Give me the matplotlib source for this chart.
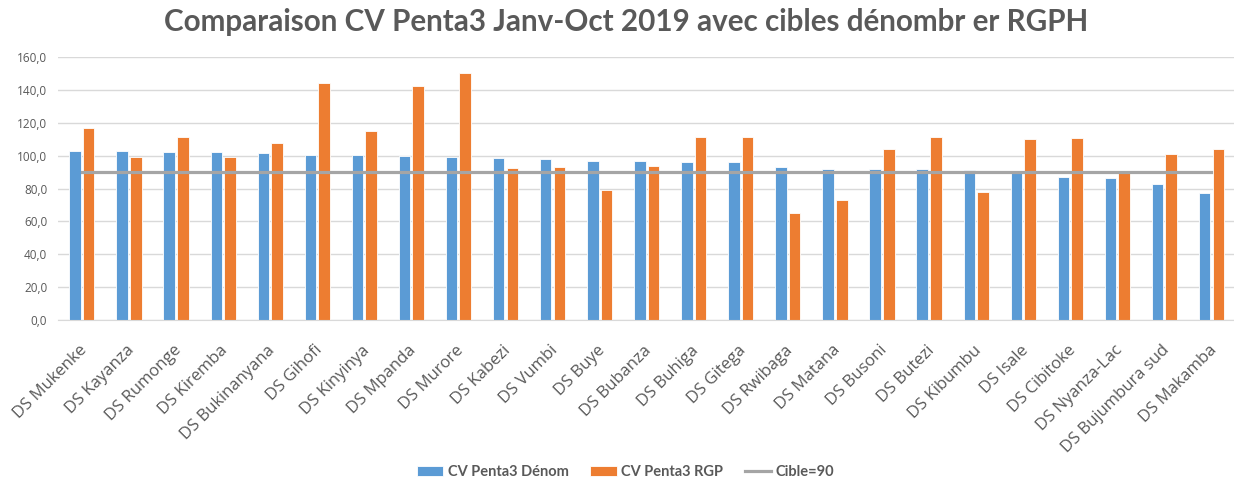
import matplotlib.pyplot as plt
import matplotlib.transforms as mtransforms
import numpy as np

districts = ['DS Mukenke', 'DS Kayanza', 'DS Rumonge', 'DS Kiremba', 'DS Bukinanyana',
             'DS Gihofi', 'DS Kinyinya', 'DS Mpanda', 'DS Murore', 'DS Kabezi',
             'DS Vumbi', 'DS Buye', 'DS Bubanza', 'DS Buhiga', 'DS Gitega',
             'DS Rwibaga', 'DS Matana', 'DS Busoni', 'DS Butezi', 'DS Kibumbu',
             'DS Isale', 'DS Cibitoke', 'DS Nyanza-Lac', 'DS Bujumbura sud', 'DS Makamba']

cv_denom = [103.0, 103.0, 102.3, 102.3, 101.7, 100.6, 100.6, 100.0, 99.5, 98.9,
            98.3, 97.0, 97.0, 96.4, 96.4, 93.4, 91.8, 91.8, 91.8, 91.2,
            89.7, 87.1, 86.5, 82.8, 77.5]
cv_rgp = [117.0, 99.5, 111.2, 99.5, 107.6, 144.5, 115.3, 142.7, 150.2, 92.4,
          93.0, 79.0, 93.6, 111.6, 111.6, 65.4, 72.9, 104.1, 111.6, 77.8,
          110.4, 111.0, 89.7, 101.1, 104.1]
cible = [90] * len(districts)

txt = '#595959'
x = np.arange(len(districts))

fig = plt.figure(figsize=(12.34, 4.93), dpi=100)
ax = fig.add_axes([0.0473, 0.351, 0.9535, 0.533])

b1 = ax.bar(x - 0.145, cv_denom, 0.245, color='#5B9BD5', edgecolor='white', linewidth=0.6,
            label='CV Penta3 Dénom', zorder=2)
b2 = ax.bar(x + 0.145, cv_rgp, 0.245, color='#ED7D31', edgecolor='white', linewidth=0.6,
            label='CV Penta3 RGP', zorder=2)
l1, = ax.plot(x, cible, color='#A5A5A5', linewidth=2.3, label='Cible=90', zorder=3)

ax.set_xlim(-0.5, len(districts) - 0.5)
ax.set_ylim(0, 160)
ax.set_yticks(np.arange(0, 161, 20))
ax.set_yticklabels([f'{v:.1f}'.replace('.', ',') for v in np.arange(0, 161, 20)],
                   fontsize=8.5, color=txt, family='Open Sans')
ax.set_xticks(x)
ax.set_xticklabels(districts, rotation=45, ha='right', rotation_mode='anchor',
                   fontsize=12, color=txt, family='Open Sans')
ax.tick_params(axis='both', length=0, pad=8)
ax.tick_params(axis='x', pad=6)
# décaler les étiquettes vers le bas
off = mtransforms.ScaledTranslation(-3 / 100, -14 / 100, fig.dpi_scale_trans)
for lab in ax.get_xticklabels():
    lab.set_transform(lab.get_transform() + off)
ax.grid(axis='y', color='#D9D9D9', linewidth=1)
ax.set_axisbelow(True)
for s in ['top', 'right', 'left']:
    ax.spines[s].set_visible(False)
ax.spines['bottom'].set_color('#D9D9D9')

fig.text(0.507, 0.955, 'Comparaison CV Penta3 Janv-Oct 2019 avec cibles dénombr er RGPH',
         ha='center', va='center', fontsize=21.3, fontweight='bold', color=txt, family='Lato')

leg = fig.legend([b1, b2, l1], ['CV Penta3 Dénom', 'CV Penta3 RGP', 'Cible=90'],
                 loc='center', bbox_to_anchor=(0.507, 0.043), ncol=3, frameon=False,
                 prop={'family': 'Lato', 'weight': 'bold', 'size': 10.5},
                 handlelength=1.8, handleheight=0.7, columnspacing=1.5, handletextpad=0.3)
for t in leg.get_texts():
    t.set_color(txt)

fig.savefig('out.png')
